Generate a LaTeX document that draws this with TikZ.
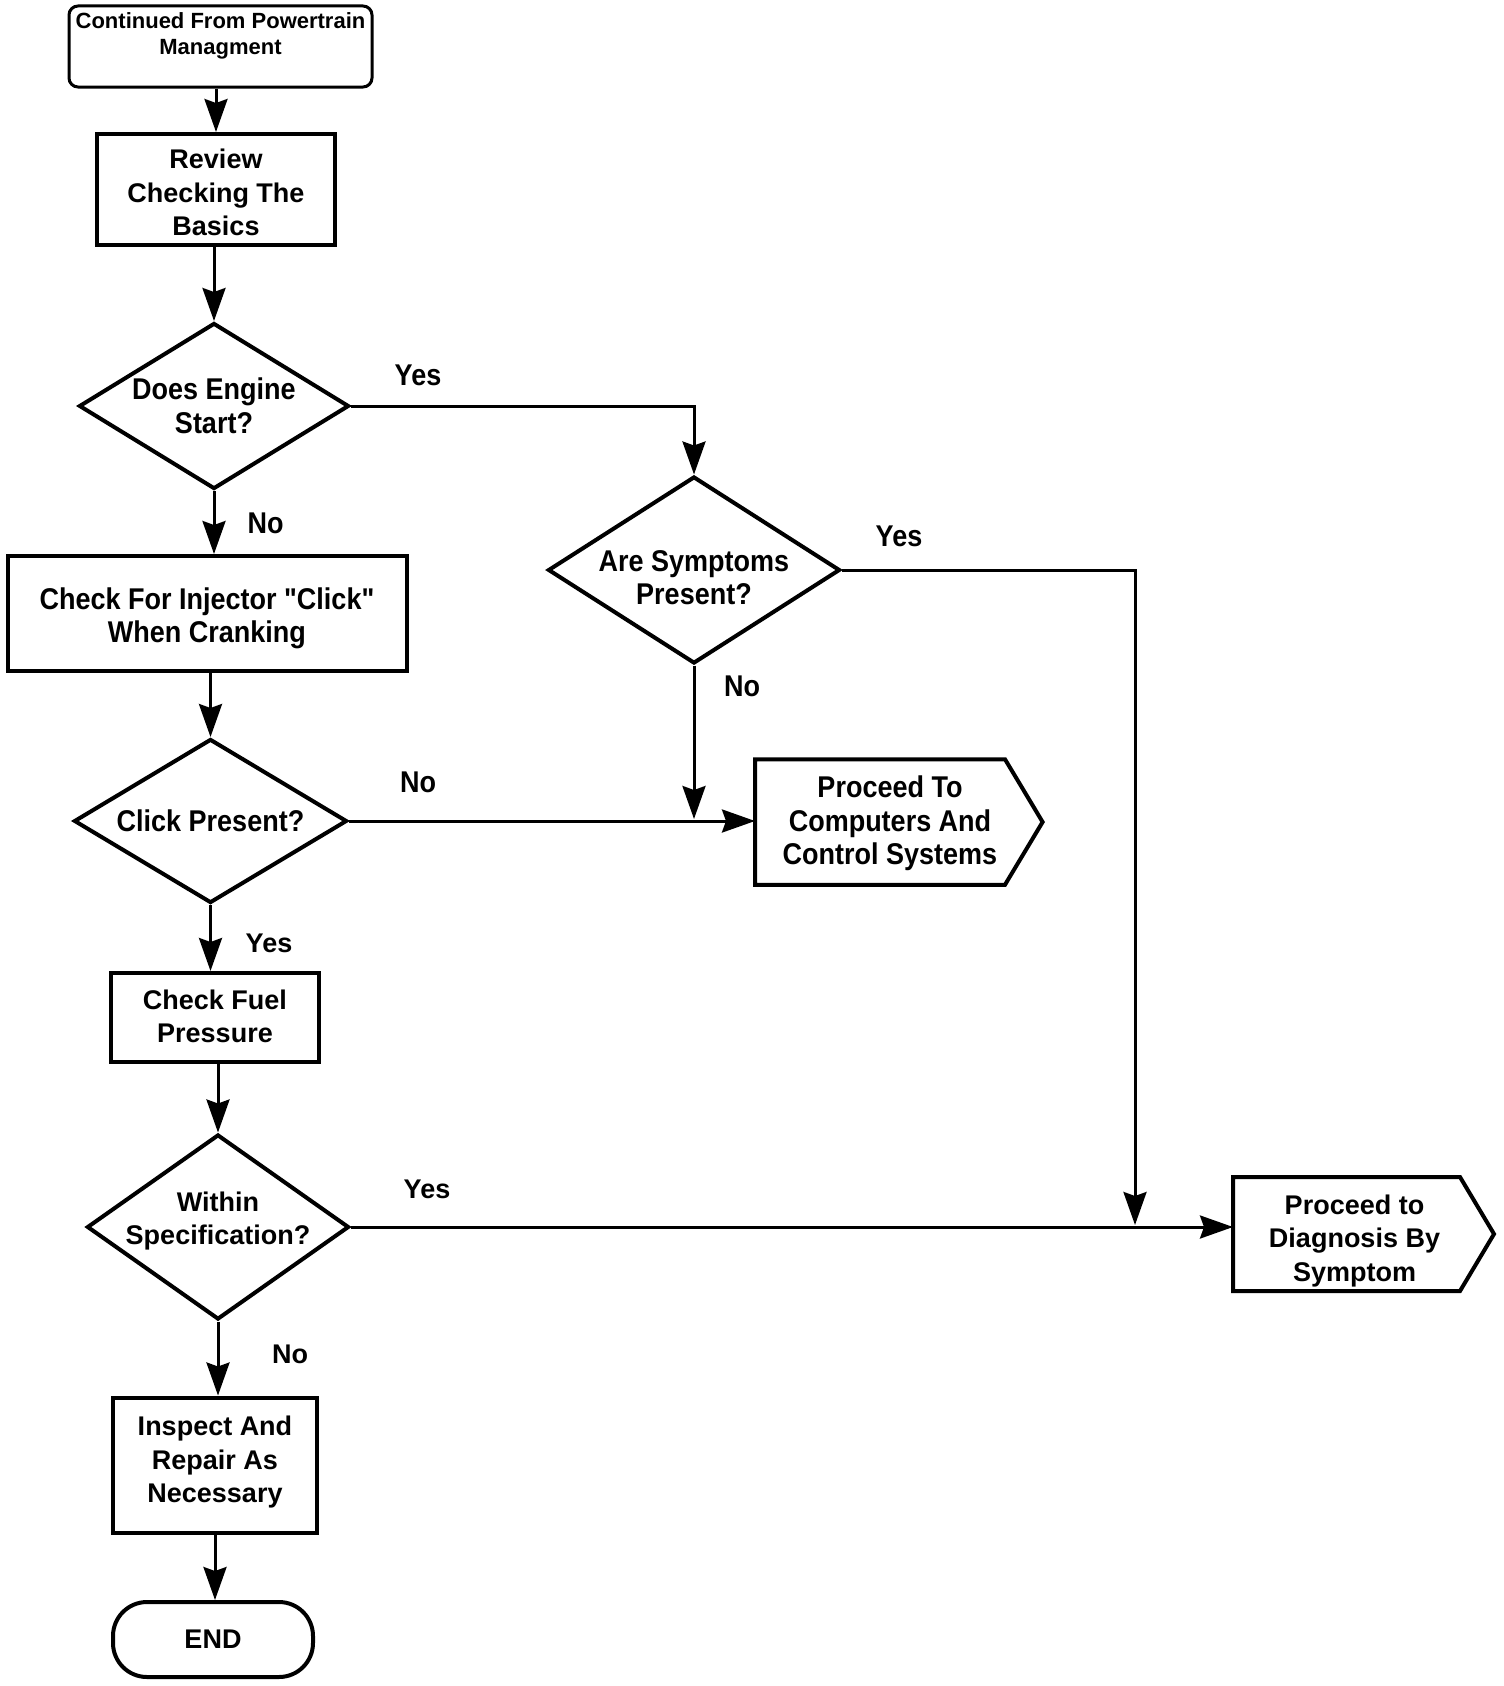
\documentclass[tikz,border=0pt]{standalone}
\usepackage{fontspec}
\setmainfont{Liberation Sans}
\newfontfamily\narrowfont[FakeStretch=0.9]{Liberation Sans}
\usetikzlibrary{shapes.geometric,arrows.meta,calc}

\begin{document}
\begin{tikzpicture}[x=1pt,y=-1pt,
  wide/.style={font=\fontsize{27}{33.6}\selectfont\bfseries},
  narrow/.style={font=\narrowfont\fontsize{30}{33.6}\selectfont\bfseries},
  small/.style={font=\fontsize{22}{26}\selectfont\bfseries},
  box/.style={draw, rectangle, line width=4pt, align=center, inner sep=0pt},
  dec/.style={draw, diamond, line width=4pt, align=center, inner sep=0pt},
  sig/.style={rectangle, line width=4pt, align=center, inner sep=0pt},
  sigline/.style={line width=4pt},
  txt/.style={align=center, inner sep=0pt},
  arr/.style={line width=3pt, -{Stealth[length=33pt,width=23pt,inset=4pt]}},
  lbl/.style={inner sep=0pt},
]
\useasboundingbox (0,0) rectangle (1504,1686);
\fill[white] (0,0) rectangle (1504,1686);

% shapes
\node[box, small, line width=3pt, rounded corners=9pt, minimum width=303pt, minimum height=81pt]
  (top) at (220.5,46.5) {Continued From Powertrain\\Managment\\\mbox{}};
\node[box, minimum width=238pt, minimum height=111pt] (review) at (216,189.5) {};
\node[dec, minimum width=270pt, minimum height=166pt] (d1) at (214,406) {};
\node[dec, minimum width=292pt, minimum height=187pt] (d2) at (694,570) {};
\node[box, minimum width=399pt, minimum height=115pt] (inj) at (207,613.5) {};
\node[dec, minimum width=273pt, minimum height=164pt] (d3) at (210.5,821) {};
\node[sig, minimum width=266pt, minimum height=121.5pt] (comp) at (890,822) {};
\node[box, minimum width=208pt, minimum height=89pt] (fuel) at (215,1017.5) {};
\node[dec, minimum width=262pt, minimum height=185pt] (d4) at (218,1227) {};
\node[sig, minimum width=239pt, minimum height=110pt] (diag) at (1354.5,1234) {};
\node[box, minimum width=204pt, minimum height=135pt] (insp) at (215,1465) {};
\node[box, wide, rounded corners=34pt, minimum width=200pt, minimum height=75pt]
  (endn) at (213,1639.5) {END};

% texts
\node[txt, wide]   (reviewt) at ($(review)+(0,3)$) {Review\\Checking The\\Basics};
\node[txt, narrow] (d1t)     at ($(d1)+(0,0)$) {Does Engine\\Start?};
\node[txt, narrow] (d2t)     at ($(d2)+(0,7.5)$) {Are Symptoms\\Present?};
\node[txt, narrow] (injt)    at ($(inj)+(0,5)$) {Check For Injector "Click"\\When Cranking};
\node[txt, narrow] (d3t)     at ($(d3)+(0,0)$) {Click Present?};
\node[txt, narrow] (compt)   at ($(comp)+(0,1.5)$) {Proceed To\\Computers And\\Control Systems};
\node[txt, wide]   (fuelt)   at ($(fuel)+(0,-1)$) {Check Fuel\\Pressure};
\node[txt, wide]   (d4t)     at ($(d4)+(0,-6)$) {Within\\Specification?};
\node[txt, wide]   (diagt)   at ($(diag)+(0,7)$) {Proceed to\\Diagnosis By\\Symptom};
\node[txt, wide]   (inspt)   at ($(insp)+(0,-3)$) {Inspect And\\Repair As\\Necessary};

% pointed outlines
\draw[sigline] (comp.north west) -- ($(comp.north east)+(-20,0)$) -- ($(comp.east)+(17.6,0)$)
  -- ($(comp.south east)+(-20,0)$) -- (comp.south west) -- cycle;
\draw[sigline] (diag.north west) -- ($(diag.north east)+(-16,0)$) -- ($(diag.east)+(18,0)$)
  -- ($(diag.south east)+(-16,0)$) -- (diag.south west) -- cycle;

% junction coordinates
\coordinate (j1) at ($(d2.south |- comp.west)+(0,-3)$);
\coordinate (j2) at (1135,1225);

% connectors
\draw[arr] (top.south -| review.north) -- (review.north);
\draw[arr] (review.south -| d1.north) -- (d1.north);
\draw[arr] (d1.south) -- (d1.south |- inj.north);
\draw[arr] (inj.south -| d3.north) -- (d3.north);
\draw[arr] (d3.south) -- (d3.south |- fuel.north);
\draw[arr] (fuel.south -| d4.north) -- (d4.north);
\draw[arr] (d4.south) -- (d4.south |- insp.north);
\draw[arr] (insp.south) -- (insp.south |- endn.north);
\draw[arr] (d1.east) -| (d2.north);
\draw[arr] (d2.east) -| (j2);
\draw[arr] (d2.south) -- (j1);
\draw[arr] (d3.east) -- (d3.east -| comp.west);
\draw[arr] (d4.east) -- (d4.east -| diag.west);

% labels
\node[lbl, narrow] (yes1) at (418,375) {Yes};
\node[lbl, narrow] (no1) at (265.5,523.5) {No};
\node[lbl, narrow] (yes2) at (899,536) {Yes};
\node[lbl, narrow] (no2) at (742,686) {No};
\node[lbl, narrow] (no3) at (418,782.6) {No};
\node[lbl, wide] (yes3) at (269,943) {Yes};
\node[lbl, wide] (yes4) at (427,1189) {Yes};
\node[lbl, wide] (no4) at (290,1354.5) {No};
\end{tikzpicture}
\end{document}
